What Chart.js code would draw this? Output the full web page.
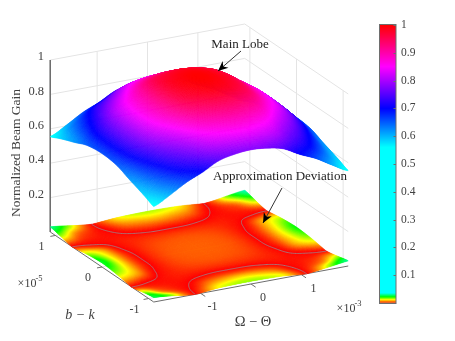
<!DOCTYPE html>
<html>
<head>
<meta charset="utf-8">
<style>
html, body { margin: 0; padding: 0; background: #fff; }
canvas { display: block; }
</style>
<script src="https://cdn.jsdelivr.net/npm/chart.js@4"></script>
</head>
<body>
<canvas id="beamChart" width="455" height="341"></canvas>
<script>
// surface nodes, x axis is Omega-Theta (1e-3), y axis is b-k (1e-5)
const omegaNodes = [-1.93, -1.61, -1.29, -0.96, -0.64, -0.32, 0, 0.32, 0.64, 0.96, 1.29, 1.61, 1.93];
const bkNodes = [-1.11, -0.93, -0.74, -0.56, -0.37, -0.19, 0, 0.19, 0.37, 0.56, 0.74, 0.93, 1.11];

const omegaTicks = [-1, 0, 1];
const bkTicks = [-1, 0, 1];
const gainTicks = [0.2, 0.4, 0.6, 0.8, 1];
const barTicks = [0.1, 0.2, 0.3, 0.4, 0.5, 0.6, 0.7, 0.8, 0.9, 1];

// normalized beam gain, rows go b-k low to high
const mainLobe = [
  [0.555, 0.604, 0.659, 0.702, 0.751, 0.772, 0.780, 0.772, 0.751, 0.702, 0.659, 0.604, 0.555],
  [0.578, 0.640, 0.705, 0.756, 0.809, 0.832, 0.840, 0.832, 0.809, 0.756, 0.705, 0.640, 0.578],
  [0.600, 0.673, 0.745, 0.802, 0.857, 0.881, 0.890, 0.881, 0.857, 0.802, 0.745, 0.673, 0.600],
  [0.620, 0.702, 0.781, 0.843, 0.901, 0.927, 0.935, 0.927, 0.901, 0.843, 0.781, 0.702, 0.620],
  [0.644, 0.732, 0.815, 0.878, 0.940, 0.966, 0.976, 0.966, 0.940, 0.878, 0.815, 0.732, 0.644],
  [0.656, 0.746, 0.830, 0.895, 0.957, 0.984, 0.994, 0.984, 0.957, 0.895, 0.830, 0.746, 0.656],
  [0.660, 0.750, 0.835, 0.900, 0.963, 0.990, 1.000, 0.990, 0.963, 0.900, 0.835, 0.750, 0.660],
  [0.656, 0.746, 0.830, 0.895, 0.957, 0.984, 0.994, 0.984, 0.957, 0.895, 0.830, 0.746, 0.656],
  [0.644, 0.732, 0.815, 0.878, 0.940, 0.966, 0.976, 0.966, 0.940, 0.878, 0.815, 0.732, 0.644],
  [0.620, 0.702, 0.781, 0.843, 0.901, 0.927, 0.935, 0.927, 0.901, 0.843, 0.781, 0.702, 0.620],
  [0.600, 0.673, 0.745, 0.802, 0.857, 0.881, 0.890, 0.881, 0.857, 0.802, 0.745, 0.673, 0.600],
  [0.578, 0.640, 0.705, 0.756, 0.809, 0.832, 0.840, 0.832, 0.809, 0.756, 0.705, 0.640, 0.578],
  [0.555, 0.604, 0.659, 0.702, 0.751, 0.772, 0.780, 0.772, 0.751, 0.702, 0.659, 0.604, 0.555]
];

// approximation deviation in 1e-3, signed so the zero line can be traced
const deviation = [
  [26, 18, 5, -3.5, -12, -15, -16, -15, -12, -3.5, 5, 18, 30],
  [18, 7, 2, -1, -6.5, -9, -10, -9, -6.5, -1, 2, 7, 18],
  [5, 2, 1, 0.5, -1, -2.2, -2.4, -2.2, -1, 0.5, 1, 2, 5],
  [-3.5, -1, 0.5, 1.4, 1.6, 1.6, 1.6, 1.6, 1.6, 1.4, 0.5, -1, -3.5],
  [-13, -8.5, -1, 1.6, 3, 3.6, 3.8, 3.6, 3, 1.6, -1, -8.5, -13],
  [-20, -11, -2.2, 1.6, 3.6, 4.3, 4.4, 4.3, 3.6, 1.6, -2.2, -10.5, -19],
  [-24, -12, -2.4, 1.6, 3.8, 4.4, 4.5, 4.4, 3.8, 1.6, -2.4, -11.5, -22],
  [-20, -11, -2.2, 1.6, 3.6, 4.3, 4.4, 4.3, 3.6, 1.6, -2.2, -10.5, -19],
  [-13, -8.5, -1, 1.6, 3, 3.6, 3.8, 3.6, 3, 1.6, -1, -8.5, -13],
  [-3.5, -1, 0.5, 1.4, 1.6, 1.6, 1.6, 1.6, 1.6, 1.4, 0.5, -1, -3.5],
  [5, 2, 1, 0.5, -1, -2.2, -2.4, -2.2, -1, 0.5, 1, 2, 5],
  [19, 7, 2, -1, -6, -8, -9, -8, -6, -1, 2, 7, 20],
  [30, 18, 5, -3.5, -11, -14, -15, -14, -11, -3.5, 5, 20, 33]
];

// colormap: value, r, g, b
const mapStops = [
  [0, 255, 0, 0],
  [0.006, 255, 128, 0],
  [0.012, 255, 255, 0],
  [0.022, 0, 255, 0],
  [0.036, 0, 255, 255],
  [0.56, 0, 255, 255],
  [0.7, 0, 0, 255],
  [0.85, 255, 0, 255],
  [1, 255, 0, 0]
];

const textColor = '#404040';
const gridColor = '#e4e4e4';
const axisColor = '#6e6e6e';

// fixed view of the 3D box, gives a position on the flat page scales
const omegaEnd = 1.93;
const bkEnd = 1.11;
function project(om, bk, z) {
  const u = om / omegaEnd, v = bk / bkEnd;
  return { x: 199.25 + 97.25 * u - 51.75 * v, y: 249 - 18 * u - 35 * v - 172 * z };
}

function mapColor(val) {
  let s = mapStops;
  if (val <= 0) return [s[0][1], s[0][2], s[0][3]];
  for (let i = 1; i < s.length; i++) {
    if (val <= s[i][0]) {
      const t = (val - s[i - 1][0]) / (s[i][0] - s[i - 1][0]);
      return [1, 2, 3].map(k => s[i - 1][k] + t * (s[i][k] - s[i - 1][k]));
    }
  }
  return [255, 0, 0];
}
function rgb(c) { return 'rgb(' + Math.round(c[0]) + ',' + Math.round(c[1]) + ',' + Math.round(c[2]) + ')'; }

function line(points, color, order) {
  return { data: points, showLine: true, borderColor: color, borderWidth: 1, pointRadius: 0, fill: false, order: order };
}

const datasets = [];

// back walls and floor
gainTicks.forEach(z => {
  datasets.push(line([project(-omegaEnd, bkEnd, z), project(omegaEnd, bkEnd, z), project(omegaEnd, -bkEnd, z)], gridColor, 9));
});
omegaTicks.forEach(t => {
  datasets.push(line([project(t, -bkEnd, 0), project(t, bkEnd, 0), project(t, bkEnd, 1)], gridColor, 9));
});
bkTicks.forEach(t => {
  datasets.push(line([project(-omegaEnd, t, 0), project(omegaEnd, t, 0), project(omegaEnd, t, 1)], gridColor, 9));
});

// axes with their tick marks
datasets.push(line([project(-omegaEnd, bkEnd, 1), project(-omegaEnd, bkEnd, 0), project(-omegaEnd, -bkEnd, 0), project(omegaEnd, -bkEnd, 0)], axisColor, 8));
omegaTicks.forEach(t => {
  datasets.push(line([project(t, -bkEnd, 0), project(t, -bkEnd - 0.1, 0)], axisColor, 8));
});
bkTicks.forEach(t => {
  datasets.push(line([project(-omegaEnd, t, 0), project(-omegaEnd - 0.1, t, 0)], axisColor, 8));
});

function nodePoints(grid, scale) {
  const pts = [];
  grid.forEach((row, j) => row.forEach((val, i) => {
    pts.push(project(omegaNodes[i], bkNodes[j], Math.abs(val) * scale));
  }));
  return pts;
}
datasets.push({ data: nodePoints(deviation, 0.001), pointRadius: 0, order: 6, surface: deviation, zScale: 0.001, contour: true });
datasets.push({ data: nodePoints(mainLobe, 1), pointRadius: 0, order: 5, surface: mainLobe, zScale: 1, contour: false });

// annotation arrows, in page units
const arrows = [
  [[241, 51], [218, 71]],
  [[282, 188], [263, 223]]
];
arrows.forEach(a => {
  datasets.push(line([{ x: a[0][0], y: a[0][1] }, { x: a[1][0], y: a[1][1] }], '#333333', 2));
});

function spline(a, b, c, d, t) {
  return 0.5 * (2 * b + (c - a) * t + (2 * a - 5 * b + 4 * c - d) * t * t + (3 * b - a - 3 * c + d) * t * t * t);
}
function sampleGrid(grid, fi, fj) {
  const n = grid.length - 1;
  const i0 = Math.min(Math.floor(fi), n - 1), j0 = Math.min(Math.floor(fj), n - 1);
  const ti = fi - i0, tj = fj - j0;
  const rows = [];
  for (let j = j0 - 1; j <= j0 + 2; j++) {
    const r = grid[Math.max(0, Math.min(n, j))];
    const at = k => r[Math.max(0, Math.min(n, k))];
    rows.push(spline(at(i0 - 1), at(i0), at(i0 + 1), at(i0 + 2), ti));
  }
  return spline(rows[0], rows[1], rows[2], rows[3], tj);
}
function nodeAt(list, f) {
  const i = Math.min(Math.floor(f), list.length - 2);
  return list[i] + (f - i) * (list[i + 1] - list[i]);
}

// interpolated shading of one surface, back corner first
function paintSurface(chart, ds) {
  const ctx = chart.ctx;
  const sx = chart.scales.x, sy = chart.scales.y;
  const sub = 16;
  const count = (ds.surface.length - 1) * sub + 1;
  const vals = [], px = [], py = [], base = [];
  for (let j = 0; j < count; j++) {
    vals.push([]); px.push([]); py.push([]); base.push([]);
    for (let i = 0; i < count; i++) {
      const raw = sampleGrid(ds.surface, i / sub, j / sub);
      const z = Math.abs(raw) * ds.zScale;
      const p = project(nodeAt(omegaNodes, i / sub), nodeAt(bkNodes, j / sub), z);
      vals[j].push(raw);
      base[j].push(z);
      px[j].push(sx.getPixelForValue(p.x));
      py[j].push(sy.getPixelForValue(p.y));
    }
  }
  ctx.save();
  ctx.lineWidth = 0.5;
  for (let j = count - 2; j >= 0; j--) {
    for (let i = count - 2; i >= 0; i--) {
      const col = rgb(mapColor((base[j][i] + base[j][i + 1] + base[j + 1][i] + base[j + 1][i + 1]) / 4));
      ctx.fillStyle = col;
      ctx.strokeStyle = col;
      ctx.beginPath();
      ctx.moveTo(px[j][i], py[j][i]);
      ctx.lineTo(px[j][i + 1], py[j][i + 1]);
      ctx.lineTo(px[j + 1][i + 1], py[j + 1][i + 1]);
      ctx.lineTo(px[j + 1][i], py[j + 1][i]);
      ctx.closePath();
      ctx.fill();
      ctx.stroke();
    }
  }
  if (ds.contour) {
    // zero line of the deviation
    ctx.strokeStyle = 'rgba(150,140,140,0.9)';
    ctx.lineWidth = 0.9;
    ctx.beginPath();
    for (let j = 0; j < count - 1; j++) {
      for (let i = 0; i < count - 1; i++) {
        const c = [[i, j], [i + 1, j], [i + 1, j + 1], [i, j + 1]];
        const hits = [];
        for (let k = 0; k < 4; k++) {
          const a = c[k], b = c[(k + 1) % 4];
          const va = vals[a[1]][a[0]], vb = vals[b[1]][b[0]];
          if ((va < 0) !== (vb < 0)) {
            const t = va / (va - vb);
            hits.push([px[a[1]][a[0]] + t * (px[b[1]][b[0]] - px[a[1]][a[0]]), py[a[1]][a[0]] + t * (py[b[1]][b[0]] - py[a[1]][a[0]])]);
          }
        }
        for (let h = 0; h + 1 < hits.length; h += 2) {
          ctx.moveTo(hits[h][0], hits[h][1]);
          ctx.lineTo(hits[h + 1][0], hits[h + 1][1]);
        }
      }
    }
    ctx.stroke();
  }
  ctx.restore();
}

function barY(v) { return 303 - 278 * v; }

const surfacePlugin = {
  id: 'surfacePlugin',
  beforeDatasetDraw(chart, args) {
    const ds = chart.data.datasets[args.index];
    if (ds.surface) paintSurface(chart, ds);
  },
  afterDraw(chart) {
    const ctx = chart.ctx;
    const sx = chart.scales.x, sy = chart.scales.y;
    const X = v => sx.getPixelForValue(v), Y = v => sy.getPixelForValue(v);

    function label(str, x, y, font, align, color) {
      ctx.font = font;
      ctx.textAlign = align || 'center';
      ctx.textBaseline = 'middle';
      ctx.fillStyle = color || textColor;
      ctx.fillText(str, X(x), Y(y));
    }
    const serif = '"Liberation Serif", "Times New Roman", serif';

    // arrow heads
    ctx.fillStyle = '#000';
    arrows.forEach(a => {
      const ang = Math.atan2(a[1][1] - a[0][1], a[1][0] - a[0][0]);
      const tx = X(a[1][0]), ty = Y(a[1][1]);
      ctx.beginPath();
      ctx.moveTo(tx, ty);
      ctx.lineTo(tx - 11 * Math.cos(ang - 0.42), ty - 11 * Math.sin(ang - 0.42));
      ctx.lineTo(tx - 7 * Math.cos(ang), ty - 7 * Math.sin(ang));
      ctx.lineTo(tx - 11 * Math.cos(ang + 0.42), ty - 11 * Math.sin(ang + 0.42));
      ctx.closePath();
      ctx.fill();
    });

    // colorbar
    for (let y = 25; y < 303; y++) {
      const v = (303 - y - 0.5) / 278;
      ctx.fillStyle = rgb(mapColor(v));
      ctx.fillRect(X(380), Y(y), X(396) - X(380), 1);
    }
    ctx.fillStyle = '#e8612c';
    ctx.fillRect(X(380), Y(302), X(396) - X(380), 1);
    ctx.strokeStyle = axisColor;
    ctx.lineWidth = 1;
    ctx.strokeRect(X(379.5), Y(24.5), 16.5, 279);
    barTicks.forEach(v => {
      const y = Math.round(barY(v)) + 0.5;
      ctx.beginPath();
      ctx.moveTo(X(396), y);
      ctx.lineTo(X(393.5), y);
      ctx.stroke();
      label(String(v), 401, barY(v), '11.5px ' + serif, 'left');
    });

    // tick labels
    gainTicks.forEach(z => {
      const p = project(-omegaEnd, bkEnd, z);
      label(String(z), 44, p.y - 3, '12.5px ' + serif, 'right');
    });
    omegaTicks.forEach(t => {
      const p = project(t, -bkEnd, 0);
      label(String(t), p.x + 12, p.y + 14, '12px ' + serif);
    });
    bkTicks.forEach(t => {
      const p = project(-omegaEnd, t, 0);
      label(String(t), p.x - 14, p.y + 11, '12px ' + serif);
    });

    // exponents
    label('\u00d710', 27, 284, '12px ' + serif);
    label('-5', 39, 279, '8.5px ' + serif, 'center');
    label('\u00d710', 346, 309, '12px ' + serif);
    label('-3', 358, 304, '8.5px ' + serif, 'center');

    // axis titles
    label('\u03a9 \u2212 \u0398', 253, 322, '14.5px ' + serif);
    label('b \u2212 k', 80, 315, 'italic 14px ' + serif);
    ctx.save();
    ctx.translate(X(16), Y(153));
    ctx.rotate(-Math.PI / 2);
    ctx.font = '13.5px ' + serif;
    ctx.textAlign = 'center';
    ctx.textBaseline = 'middle';
    ctx.fillStyle = textColor;
    ctx.fillText('Normalized Beam Gain', 0, 0);
    ctx.restore();

    // annotations
    label('Main Lobe', 240, 45, '13px ' + serif, 'center', '#222222');
    label('Approximation Deviation', 280, 177, '13px ' + serif, 'center', '#222222');
  }
};

new Chart(document.getElementById('beamChart'), {
  type: 'scatter',
  data: { datasets: datasets },
  options: {
    responsive: false,
    animation: false,
    layout: { padding: 0 },
    plugins: { legend: { display: false }, tooltip: { enabled: false } },
    scales: {
      x: { type: 'linear', min: 0, max: 455, display: false },
      y: { type: 'linear', min: 0, max: 341, reverse: true, display: false }
    }
  },
  plugins: [surfacePlugin]
});
</script>
</body>
</html>
